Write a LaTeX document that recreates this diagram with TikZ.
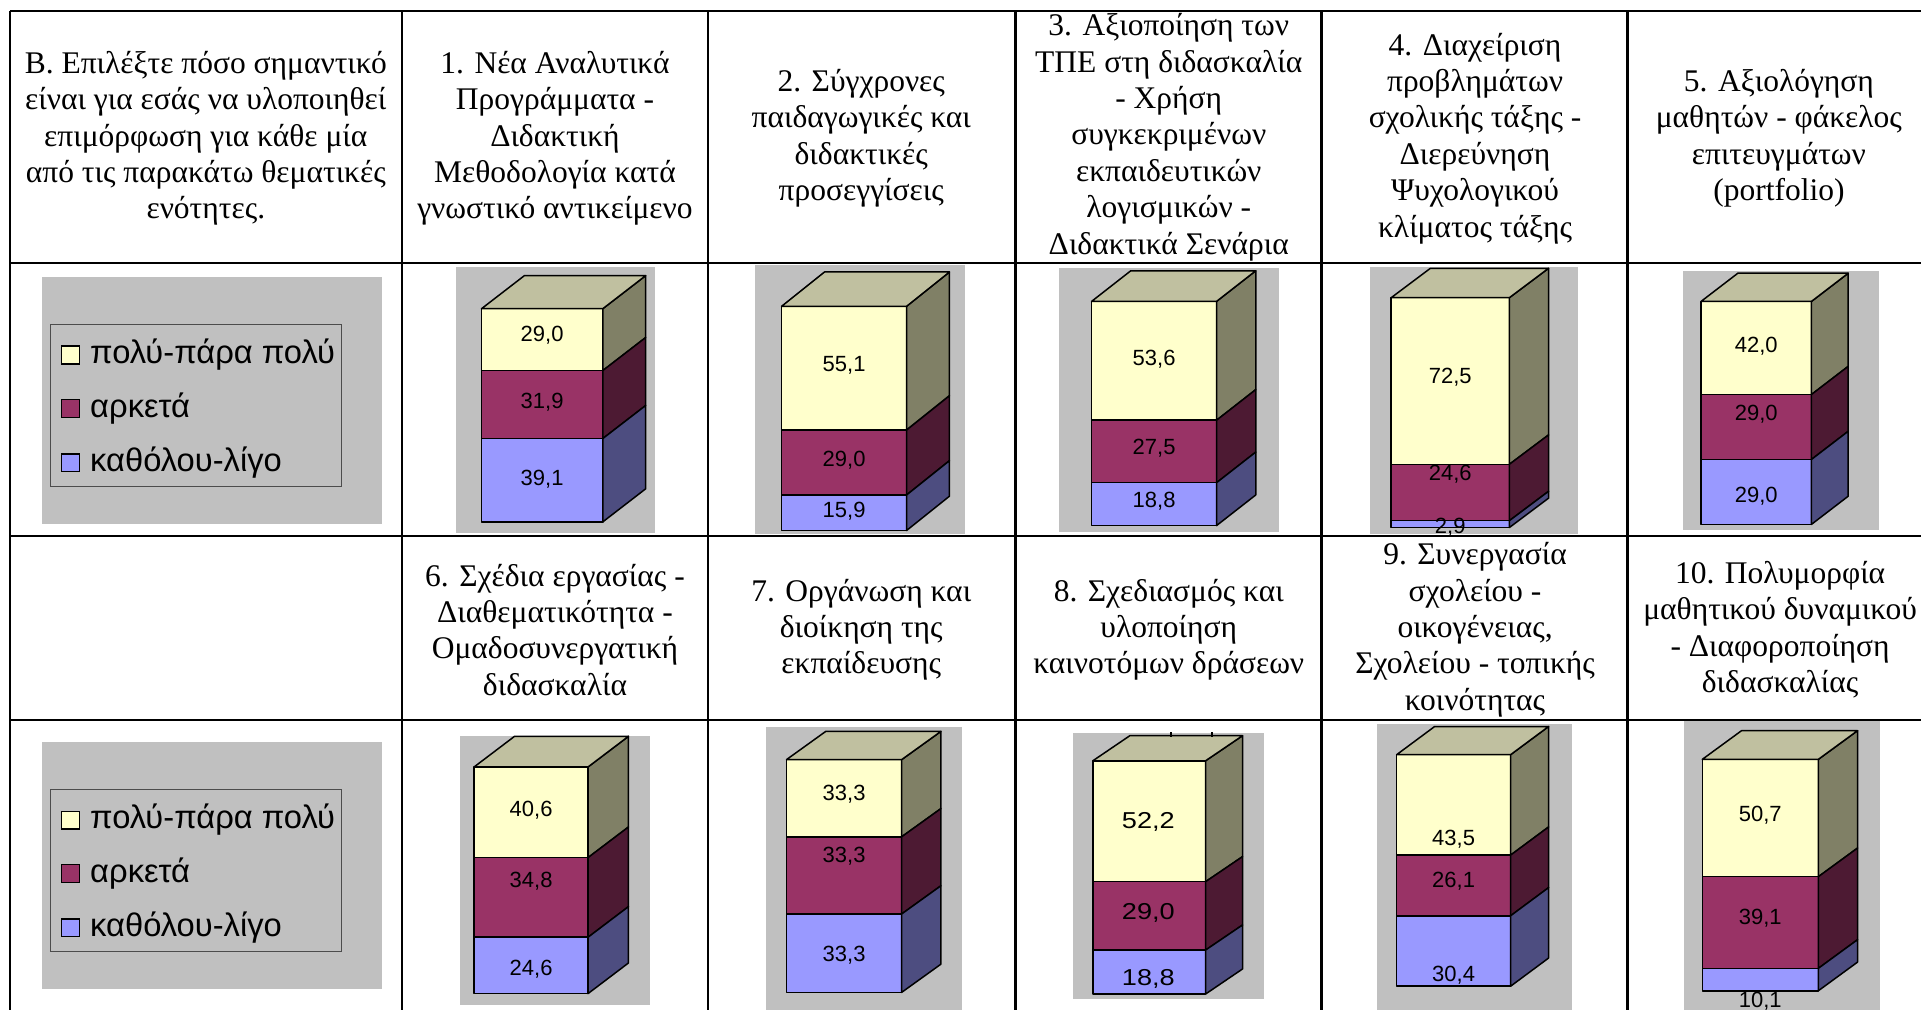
\documentclass[tikz,border=0pt]{standalone}
\usepackage{fontspec}
\setmainfont{Liberation Serif}
\newfontfamily\arialf{Liberation Sans}
\definecolor{bggray}{HTML}{C0C0C0}
\definecolor{yelF}{HTML}{FFFFCC}
\definecolor{yelS}{HTML}{808066}
\definecolor{topF}{HTML}{C0C0A0}
\definecolor{marF}{HTML}{993366}
\definecolor{marS}{HTML}{4D1A33}
\definecolor{bluF}{HTML}{9999FF}
\definecolor{bluS}{HTML}{4D4D80}
\tikzset{
  gridline/.style={line width=2.5pt, draw=black},
  face/.style={draw=black, line width=1.5pt, line join=round},
  hdr/.style={font=\fontsize{31.5}{36.4}\selectfont, align=center, inner sep=0pt},
  val/.style={font=\arialf\fontsize{22}{24}\selectfont, inner sep=0pt},
  leg/.style={font=\arialf\fontsize{32.7}{34}\selectfont, inner sep=0pt, anchor=base west},
  legbox/.style={draw=black!70, line width=1pt},
  legsq/.style={draw=black, line width=1.5pt},
  chartbg/.style={fill=bggray},
}
% L R T b1 b2 B dx dy
\newcommand{\stackbar}[8]{%
  \draw[face, fill=yelF] (#1,#3) rectangle (#2,#4);
  \draw[face, fill=marF] (#1,#4) rectangle (#2,#5);
  \draw[face, fill=bluF] (#1,#5) rectangle (#2,#6);
  \draw[face, fill=yelS] (#2,#3) -- ({#2+#7},{#3+#8}) -- ({#2+#7},{#4+#8}) -- (#2,#4) -- cycle;
  \draw[face, fill=marS] (#2,#4) -- ({#2+#7},{#4+#8}) -- ({#2+#7},{#5+#8}) -- (#2,#5) -- cycle;
  \draw[face, fill=bluS] (#2,#5) -- ({#2+#7},{#5+#8}) -- ({#2+#7},{#6+#8}) -- (#2,#6) -- cycle;
  \draw[face, fill=topF] (#1,#3) -- ({#1+#7},{#3+#8}) -- ({#2+#7},{#3+#8}) -- (#2,#3) -- cycle;
}
% legend: top offset
\newcommand{\legendblock}[2]{%
  \fill[bggray] (34,{226+#1}) rectangle (312,{428+#1});
  \draw[legbox] (41,{265+#1}) rectangle (279,{397+#1});
  \draw[legsq, fill=yelF] (50.4,{282.6+#1}) rectangle (64.7,{297+#1});
  \draw[legsq, fill=marF] (50.4,{326.2+#1}) rectangle (64.7,{340.6+#1});
  \draw[legsq, fill=bluF] (50.4,{370.5+#1}) rectangle (64.7,{385+#1});
  \node[leg] (#2a) at (73.5,{297+#1}) {πολύ-πάρα πολύ};
  \node[leg] (#2b) at (73.5,{340.6+#1}) {αρκετά};
  \node[leg] (#2c) at (73.5,{385+#1}) {καθόλου-λίγο};
}
\begin{document}
\begin{tikzpicture}[x=1.2251pt, y=-1.2251pt]
\useasboundingbox (0,0) rectangle (1568,824);
\fill[white] (0,0) rectangle (1568,824);
\clip (0,0) rectangle (1568,824);

% ---------- legends ----------
\legendblock{0}{legA}
\legendblock{379.6}{legB}

% ---------- chart backgrounds ----------
\fill[chartbg] (372,218) rectangle (534.6,435);
\fill[chartbg] (616,216) rectangle (788,436);
\fill[chartbg] (864,219) rectangle (1043.7,434);
\fill[chartbg] (1118,218) rectangle (1288,436);
\fill[chartbg] (1373.6,221) rectangle (1534,433);
\fill[chartbg] (375.5,601) rectangle (530.7,820);
\fill[chartbg] (625,593) rectangle (785,830);
\fill[chartbg] (875.6,598.6) rectangle (1031.7,815.7);
\fill[chartbg] (1124,591) rectangle (1283,830);
\fill[chartbg] (1374.6,587.7) rectangle (1534.6,830);

% ---------- bars ----------
\stackbar{393}{492}{252}{302.5}{358}{426}{35}{-27}
\stackbar{638}{740}{250}{351}{404}{433}{35}{-28}
\stackbar{891}{993}{246}{343}{394}{429}{32}{-25}
\stackbar{1135.5}{1232}{243}{379}{425}{430.6}{32}{-24}
\stackbar{1388.5}{1478.6}{246}{322}{375}{428}{30}{-23}
\stackbar{387}{480}{626}{700}{765}{811}{33}{-25}
\stackbar{642}{736}{620}{683}{746}{810}{32}{-23}
\stackbar{892}{984}{621}{719.7}{775.5}{811.4}{30.2}{-20.5}
\stackbar{1140}{1233}{616}{698}{747.5}{805}{31}{-23}
\stackbar{1389.5}{1484.2}{619.8}{715.6}{790.4}{808.7}{32}{-23.4}

% small ticks above chart 8
\draw[line width=2pt] (955.6,597.5) -- (955.6,601.5);
\draw[line width=2pt] (989,597.5) -- (989,601.5);

% ---------- values ----------
\node[val] (v1a) at (442.5,274) {29,0};
\node[val] (v1b) at (442.5,328) {31,9};
\node[val] (v1c) at (442.5,391) {39,1};
\node[val] (v2a) at (689,298) {55,1};
\node[val] (v2b) at (689,376) {29,0};
\node[val] (v2c) at (689,417) {15,9};
\node[val] (v3a) at (942,293) {53,6};
\node[val] (v3b) at (942,366) {27,5};
\node[val] (v3c) at (942,409) {18,8};
\node[val] (v4a) at (1183.7,308) {72,5};
\node[val] (v4b) at (1183.7,387) {24,6};
\node[val] (v4c) at (1183.7,430) {2,9};
\node[val] (v5a) at (1433.5,283) {42,0};
\node[val] (v5b) at (1433.5,338) {29,0};
\node[val] (v5c) at (1433.5,405) {29,0};
\node[val] (v6a) at (433.5,661) {40,6};
\node[val] (v6b) at (433.5,719) {34,8};
\node[val] (v6c) at (433.5,791) {24,6};
\node[val] (v7a) at (689,648) {33,3};
\node[val] (v7b) at (689,699) {33,3};
\node[val] (v7c) at (689,780) {33,3};
\node[val, font=\arialf\fontsize{23}{25}\selectfont, xscale=1.18] (v8a) at (937.3,670.7) {52,2};
\node[val, font=\arialf\fontsize{23}{25}\selectfont, xscale=1.18] (v8b) at (937.3,745.5) {29,0};
\node[val, font=\arialf\fontsize{23}{25}\selectfont, xscale=1.18] (v8c) at (937.3,799.4) {18,8};
\node[val] (v9a) at (1186.5,685) {43,5};
\node[val] (v9b) at (1186.5,719) {26,1};
\node[val] (v9c) at (1186.5,796) {30,4};
\node[val] (v10a) at (1436.8,665.3) {50,7};
\node[val] (v10b) at (1436.8,749.6) {39,1};
\node[val] (v10c) at (1436.8,817.6) {10,1};

% ---------- header texts ----------
\node[hdr] (hB) at (168,113) {Β. Επιλέξτε πόσο σημαντικό\\είναι για εσάς να υλοποιηθεί\\επιμόρφωση για κάθε μία\\από τις παρακάτω θεματικές\\ενότητες.};
\node[hdr] (h1) at (453,113) {1. Νέα Αναλυτικά\\Προγράμματα -\\Διδακτική\\Μεθοδολογία κατά\\γνωστικό αντικείμενο};
\node[hdr] (h2) at (703,113) {2. Σύγχρονες\\παιδαγωγικές και\\διδακτικές\\προσεγγίσεις};
\node[hdr] (h3) at (954,112) {3. Αξιοποίηση των\\ΤΠΕ στη διδασκαλία\\- Χρήση\\συγκεκριμένων\\εκπαιδευτικών\\λογισμικών -\\Διδακτικά Σενάρια};
\node[hdr] (h4) at (1204,113) {4. Διαχείριση\\προβλημάτων\\σχολικής τάξης -\\Διερεύνηση\\Ψυχολογικού\\κλίματος τάξης};
\node[hdr] (h5) at (1452,113) {5. Αξιολόγηση\\μαθητών - φάκελος\\επιτευγμάτων\\(portfolio)};
\node[hdr] (h6) at (453,514) {6. Σχέδια εργασίας -\\Διαθεματικότητα -\\Ομαδοσυνεργατική\\διδασκαλία};
\node[hdr] (h7) at (703,514) {7. Οργάνωση και\\διοίκηση της\\εκπαίδευσης};
\node[hdr] (h8) at (954,514) {8. Σχεδιασμός και\\υλοποίηση\\καινοτόμων δράσεων};
\node[hdr] (h9) at (1204,514) {9. Συνεργασία\\σχολείου -\\οικογένειας,\\Σχολείου - τοπικής\\κοινότητας};
\node[hdr] (h10) at (1453,514) {10. Πολυμορφία\\μαθητικού δυναμικού\\- Διαφοροποίηση\\διδασκαλίας};

% ---------- table grid ----------
\foreach \yy in {9,214.5,437.5,587.7}
  \draw[gridline] (8,\yy) -- (1580,\yy);
\foreach \xx in {8,328,577.7,829,1078.6,1328.5}
  \draw[gridline] (\xx,9) -- (\xx,830);
\end{tikzpicture}
\end{document}
